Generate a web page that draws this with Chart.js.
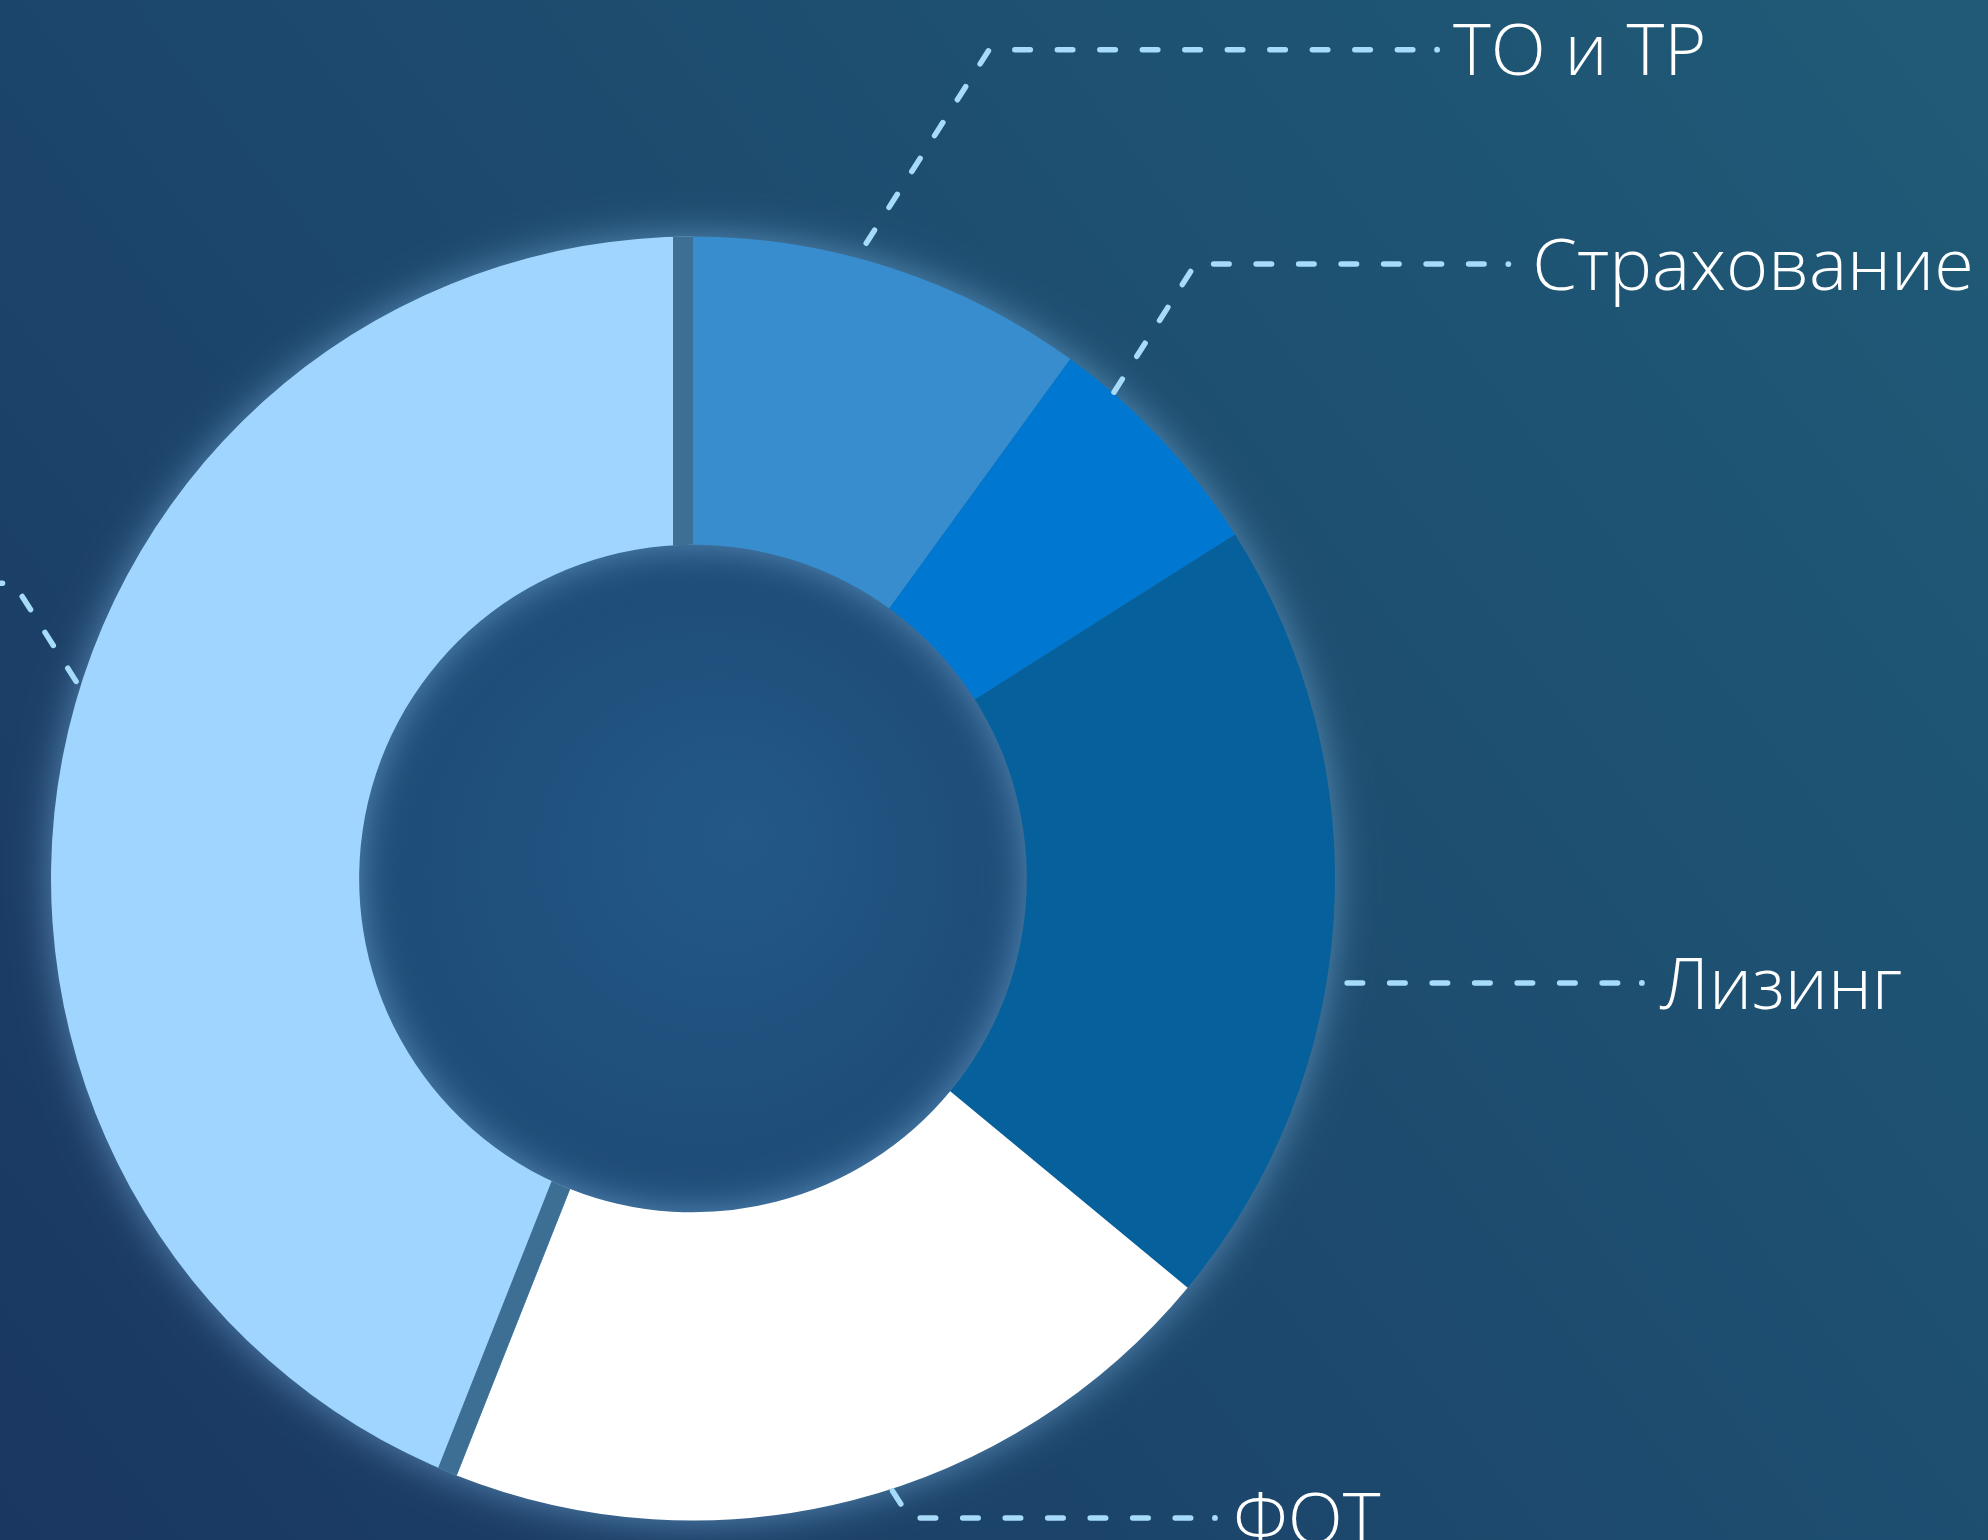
<!DOCTYPE html>
<html>
<head>
<meta charset="utf-8">
<script src="https://cdn.jsdelivr.net/npm/chart.js"></script>
<style>
  html, body { margin: 0; padding: 0; background: #1d496d; overflow: hidden; }
  #wrap { width: 1988px; height: 1540px; }
</style>
</head>
<body>
<div id="wrap"><canvas id="cost-structure" width="1988" height="1540"></canvas></div>
<script>
// data
const categories = ["ТО и ТР", "Страхование", "Лизинг", "ФОТ", "Топливо"];
const shares = [10, 6, 20, 20, 44];
const sliceColors = ["#378dcd", "#0077d1", "#05609b", "#ffffff", "#9fd5ff"];

// leader layout, in units of the outer radius from the ring centre
// angle: where the leader leaves the ring (deg, clockwise from 12 o'clock)
const leaderAngle = [14.8, 40.9, 99.2, 162, 287.3];
const leaderLineY = [-1.291, -0.957, null, 0.996, -0.460];
const leaderEndX = [1.159, 1.27, 1.478, 0.813, -1.667];
const labelGap = [16, 24, 18, 18, 18];
const leaderGap = [0, 0, 11, 0, 0];

// edge gap painted inside a slice (px)
const sliceEdgeGap = [0, 0, 0, 0, 20];

const GAP_COLOR = "#3d6e93";
const LINE_COLOR = "#a6dcfa";
const FONT_SIZE = 72;

const backdrop = {
  id: "backdrop",
  beforeDraw(chart) {
    const { ctx, width, height } = chart;
    const g = ctx.createLinearGradient(0, height, width, 0);
    g.addColorStop(0, "#1a3761");
    g.addColorStop(0.5, "#1d4a6e");
    g.addColorStop(1, "#1f5b77");
    ctx.save();
    ctx.fillStyle = g;
    ctx.fillRect(0, 0, width, height);
    ctx.restore();
  },
  beforeDatasetsDraw(chart) {
    const ctx = chart.ctx;
    const el = chart.getDatasetMeta(0).data[0];
    const { x, y, innerRadius, outerRadius } = el;
    ctx.save();
    // hole
    const hg = ctx.createRadialGradient(x + 50, y - 50, 0, x, y, innerRadius);
    hg.addColorStop(0, "#235987");
    hg.addColorStop(1, "#1e4b77");
    ctx.fillStyle = hg;
    ctx.beginPath();
    ctx.arc(x, y, innerRadius, 0, Math.PI * 2);
    ctx.fill();
    // glowing ring underlay
    ctx.shadowColor = "rgba(115,170,215,0.68)";
    ctx.shadowBlur = 38;
    ctx.fillStyle = GAP_COLOR;
    ctx.beginPath();
    ctx.arc(x, y, outerRadius, 0, Math.PI * 2);
    ctx.arc(x, y, innerRadius, 0, Math.PI * 2, true);
    ctx.fill();
    ctx.restore();
  },
  afterDatasetsDraw(chart) {
    const ctx = chart.ctx;
    const meta = chart.getDatasetMeta(0);
    const c = meta.data[0];
    const cx = c.x, cy = c.y, R = c.outerRadius, r = c.innerRadius;

    // gaps along the radial edges of flagged slices
    ctx.save();
    ctx.beginPath();
    ctx.arc(cx, cy, R, 0, Math.PI * 2);
    ctx.arc(cx, cy, r, 0, Math.PI * 2, true);
    ctx.clip();
    ctx.fillStyle = GAP_COLOR;
    meta.data.forEach((el, i) => {
      const w = sliceEdgeGap[i];
      if (!w) return;
      [[el.startAngle, 1], [el.endAngle, -1]].forEach(([a, dir]) => {
        const ux = Math.cos(a), uy = Math.sin(a);
        const nx = -uy * dir, ny = ux * dir;
        const r0 = r - 4, r1 = R + 4;
        ctx.beginPath();
        ctx.moveTo(cx + ux * r0, cy + uy * r0);
        ctx.lineTo(cx + ux * r1, cy + uy * r1);
        ctx.lineTo(cx + ux * r1 + nx * w, cy + uy * r1 + ny * w);
        ctx.lineTo(cx + ux * r0 + nx * w, cy + uy * r0 + ny * w);
        ctx.closePath();
        ctx.fill();
      });
    });
    ctx.restore();

    // leaders and labels
    ctx.save();
    ctx.font = "300 " + FONT_SIZE + "px 'Open Sans', 'Noto Sans', sans-serif";
    const capH = FONT_SIZE * 0.714;
    categories.forEach((name, i) => {
      const t = leaderAngle[i] * Math.PI / 180;
      const ar = R + leaderGap[i];
      const ax = cx + ar * Math.sin(t), ay = cy - ar * Math.cos(t);
      const ly = leaderLineY[i] === null ? ay : cy + leaderLineY[i] * R;
      const ex = cx + leaderEndX[i] * R;
      const side = ex > ax ? 1 : -1;
      const kx = side * 0.635 * Math.abs(ly - ay) + ax;

      ctx.strokeStyle = LINE_COLOR;
      ctx.lineWidth = 5.5;
      ctx.lineCap = "round";
      ctx.lineJoin = "round";
      ctx.setLineDash([15.5, 27]);
      ctx.lineDashOffset = 18.25;
      ctx.beginPath();
      ctx.moveTo(ex, ly);
      ctx.lineTo(kx, ly);
      ctx.lineTo(ax, ay);
      ctx.stroke();
      ctx.setLineDash([]);
      ctx.fillStyle = LINE_COLOR;
      ctx.beginPath();
      ctx.arc(ex, ly, 2.9, 0, Math.PI * 2);
      ctx.fill();

      ctx.fillStyle = "#ffffff";
      ctx.textAlign = side > 0 ? "left" : "right";
      ctx.textBaseline = "alphabetic";
      ctx.fillText(name, ex + side * labelGap[i], ly + capH / 2);
    });
    ctx.restore();
  }
};

new Chart("cost-structure", {
  type: "doughnut",
  data: {
    labels: categories,
    datasets: [{
      data: shares,
      backgroundColor: sliceColors,
      borderWidth: 0,
      hoverOffset: 0
    }]
  },
  options: {
    responsive: false,
    animation: false,
    cutout: "52%",
    layout: { padding: { left: 51, top: 236.5, right: 653, bottom: 19.5 } },
    plugins: {
      legend: { display: false },
      tooltip: { enabled: false }
    }
  },
  plugins: [backdrop]
});
</script>
</body>
</html>
